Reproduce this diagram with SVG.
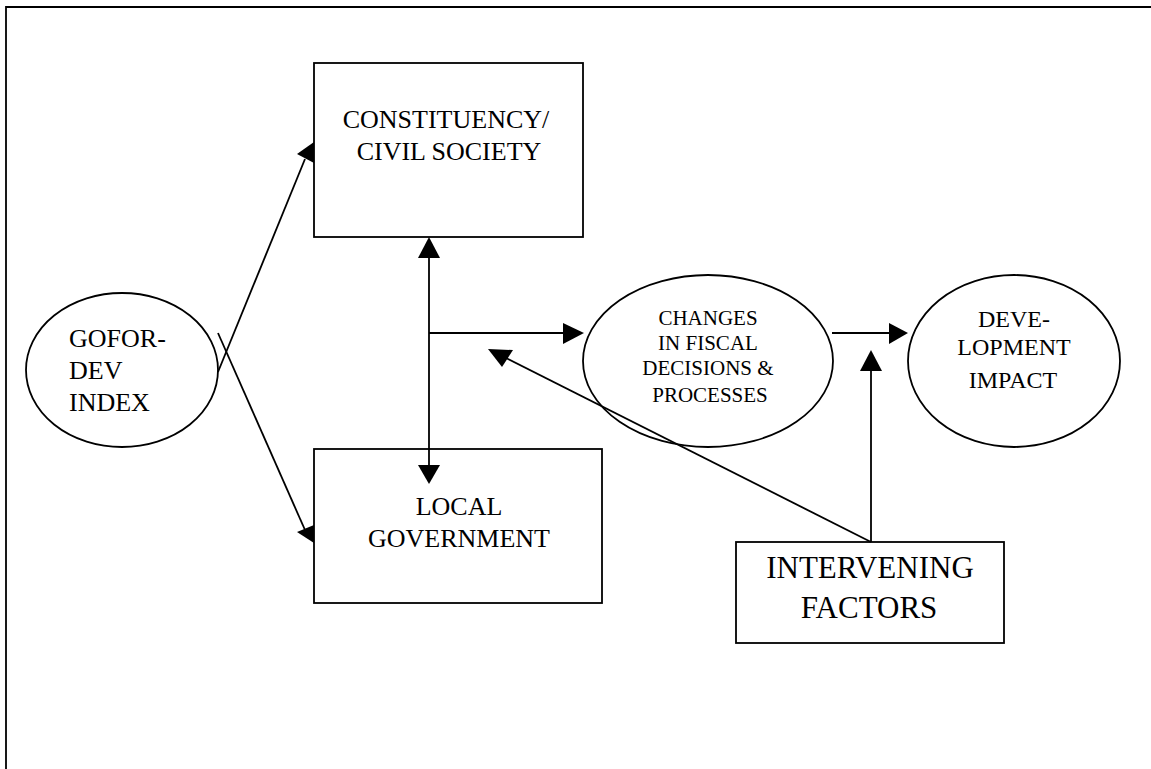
<svg xmlns="http://www.w3.org/2000/svg" width="1151" height="769" viewBox="0 0 1151 769">
<style>
.b{fill:none;stroke:#000;stroke-width:1.8}
.t{font-family:"Liberation Serif","Times New Roman",serif;fill:#000}
.c{stroke:#000;stroke-width:1.8;fill:none}
.h{fill:#000;stroke:none}
</style>
<rect width="1151" height="769" fill="#fff"/>
<g id="frame"><path class="b" d="M6,775 V7 H1160"/></g>
<g id="constituency">
<rect class="b" x="314" y="63" width="269" height="174"/>
<text class="t" font-size="26" text-anchor="middle"><tspan x="446" y="128">CONSTITUENCY/</tspan><tspan x="449" y="160">CIVIL SOCIETY</tspan></text>
</g>
<g id="local-government">
<rect class="b" x="314" y="449" width="288" height="154"/>
<text class="t" font-size="26" text-anchor="middle"><tspan x="459" y="515">LOCAL</tspan><tspan x="459" y="547">GOVERNMENT</tspan></text>
</g>
<g id="gofor">
<ellipse class="b" cx="122" cy="370" rx="96" ry="77"/>
<text class="t" font-size="26"><tspan x="69" y="347">GOFOR-</tspan><tspan x="69" y="379">DEV</tspan><tspan x="69" y="411">INDEX</tspan></text>
</g>
<g id="changes">
<ellipse class="b" cx="708" cy="361" rx="125" ry="86"/>
<text class="t" font-size="21" text-anchor="middle"><tspan x="708" y="325">CHANGES</tspan><tspan x="708" y="350">IN FISCAL</tspan><tspan x="708" y="375">DECISIONS &amp;</tspan><tspan x="710" y="402">PROCESSES</tspan></text>
</g>
<g id="development">
<ellipse class="b" cx="1014" cy="361" rx="106" ry="86"/>
<text class="t" font-size="24" text-anchor="middle"><tspan x="1014" y="327">DEVE-</tspan><tspan x="1014" y="355">LOPMENT</tspan><tspan x="1013" y="388">IMPACT</tspan></text>
</g>
<g id="intervening">
<rect class="b" x="736" y="542" width="268" height="101"/>
<text class="t" font-size="31" text-anchor="middle"><tspan x="870" y="578">INTERVENING</tspan><tspan x="869" y="618">FACTORS</tspan></text>
</g>
<g id="connectors">
<line class="c" x1="218" y1="372" x2="305" y2="159"/>
<polygon class="h" points="297,154 314,142 314,163"/>
<line class="c" x1="218" y1="333" x2="305" y2="530"/>
<polygon class="h" points="297,532 314,525 314,543"/>
<line class="c" x1="429" y1="256" x2="429" y2="466"/>
<polygon class="h" points="429,237 440,258 418,258"/>
<polygon class="h" points="429,484 440,465 418,465"/>
<line class="c" x1="429" y1="333" x2="565" y2="333"/>
<polygon class="h" points="584,333 563,323 563,344"/>
<line class="c" x1="832" y1="333" x2="890" y2="333"/>
<polygon class="h" points="908,333 889,323 889,344"/>
<line class="c" x1="871" y1="542" x2="871" y2="369"/>
<polygon class="h" points="871,350 882,371 860,371"/>
<line class="c" x1="871" y1="542" x2="506" y2="358"/>
<polygon class="h" points="488,349 513,350 502,367"/>
</g>
</svg>
